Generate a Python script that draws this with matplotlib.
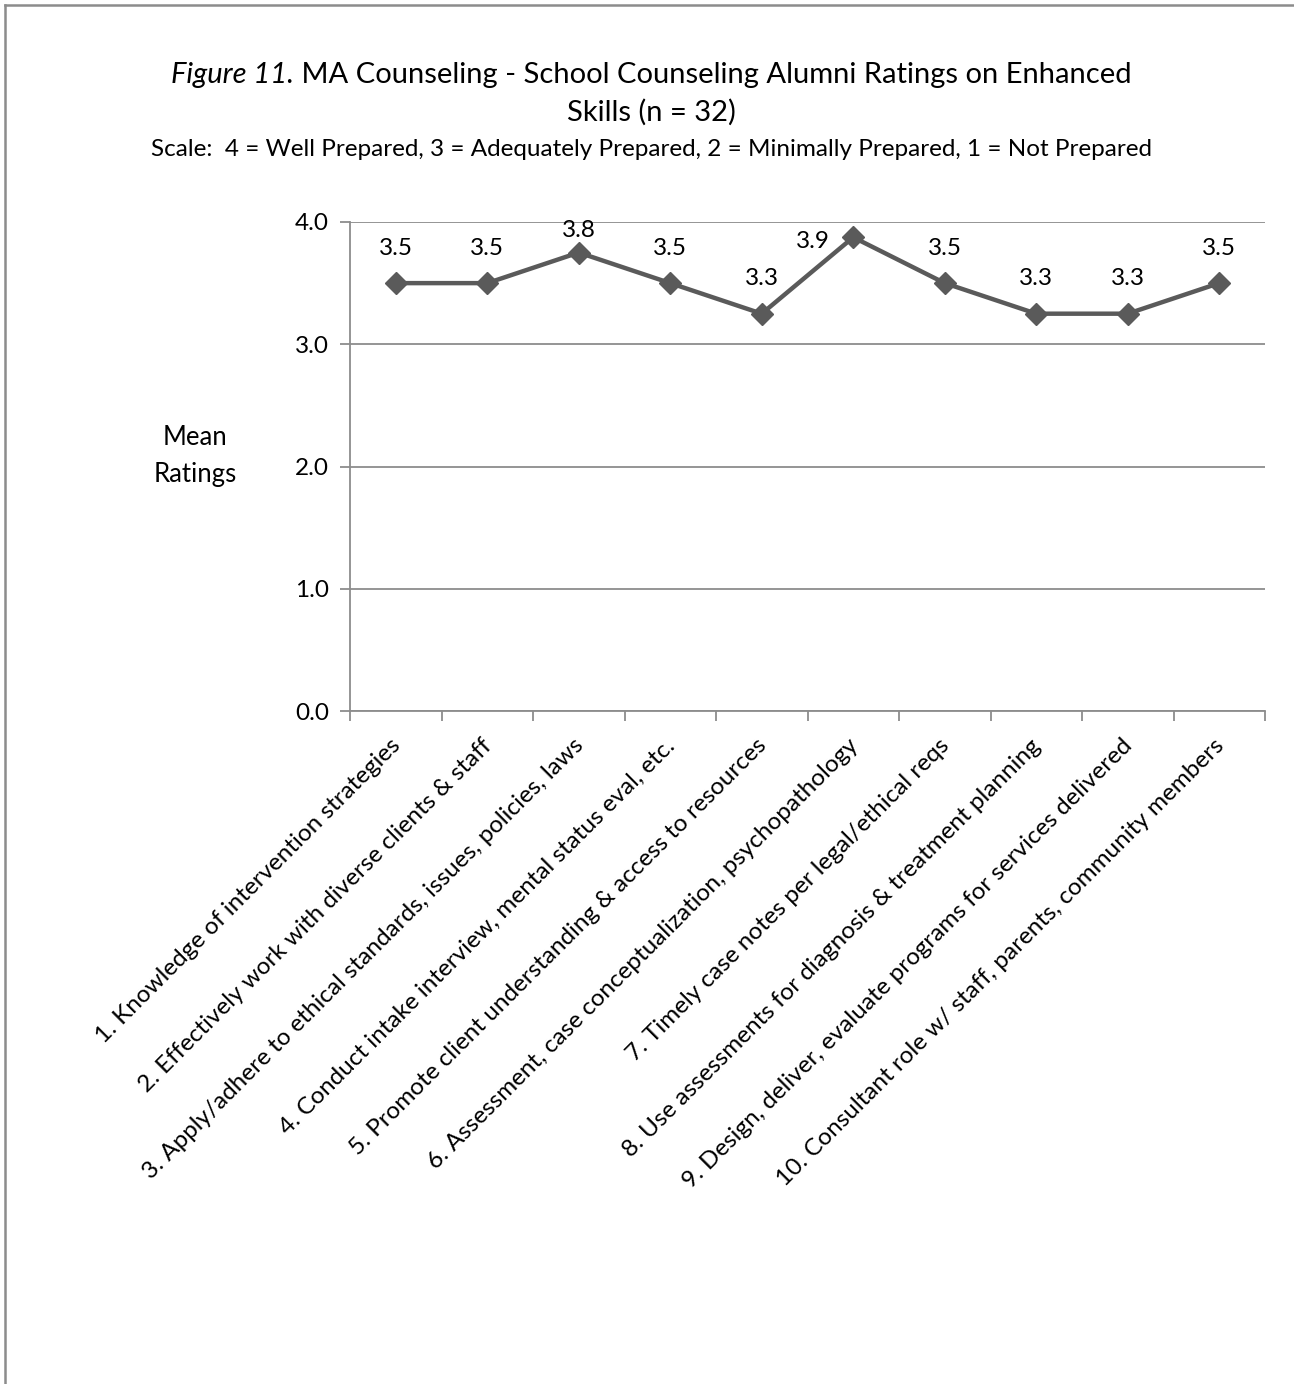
import math
import matplotlib
matplotlib.use('Agg')
import matplotlib.pyplot as plt
import matplotlib.transforms as mtransforms
from matplotlib.lines import Line2D

plt.rcParams['font.family'] = ['Lato', 'DejaVu Sans']

skills = [
    '1. Knowledge of intervention strategies',
    '2. Effectively work with diverse clients & staff',
    '3. Apply/adhere to ethical standards, issues, policies, laws',
    '4. Conduct intake interview, mental status eval, etc.',
    '5. Promote client understanding & access to resources',
    '6. Assessment, case conceptualization, psychopathology',
    '7. Timely case notes per legal/ethical reqs',
    '8. Use assessments for diagnosis & treatment planning',
    '9. Design, deliver, evaluate programs for services delivered',
    '10. Consultant role w/ staff, parents, community members',
]
mean_ratings = [3.5, 3.5, 3.75, 3.5, 3.25, 3.875, 3.5, 3.25, 3.25, 3.5]
y_ticks = [0.0, 1.0, 2.0, 3.0, 4.0]

title_italic = 'Figure 11.'
title_rest = ' MA Counseling - School Counseling Alumni Ratings on Enhanced'
title_line2 = 'Skills (n = 32)'
subtitle = 'Scale:  4 = Well Prepared, 3 = Adequately Prepared, 2 = Minimally Prepared, 1 = Not Prepared'

LINE = '#5a5a5a'
GRID = '#8c8c8c'
FS = 17.5
W, H = 1294, 1384

fig = plt.figure(figsize=(W / 100, H / 100), dpi=100)
ax = fig.add_axes([350 / W, 1 - 711 / H, 915 / W, 489 / H])

x = list(range(len(mean_ratings)))
ax.plot(x, mean_ratings, color=LINE, lw=3.2, marker='D', markersize=11,
        markerfacecolor=LINE, markeredgecolor=LINE, zorder=3, clip_on=False)


def one_decimal(v):
    # round half up like a spreadsheet does
    return '%.1f' % (math.floor(v * 10 + 0.5) / 10)


for xi, v in zip(x, mean_ratings):
    if v > 3.85:
        off = (-29, -3)
    elif v > 3.7:
        off = (0, 16)
    else:
        off = (0, 25)
    ax.annotate(one_decimal(v), (xi, v), xytext=off, textcoords='offset points',
                ha='center', va='center', fontsize=FS, color='black')

ax.set_xlim(-0.5, len(mean_ratings) - 0.5)
ax.set_ylim(0, 4)
ax.set_yticks(y_ticks)
ax.set_yticklabels(['%.1f' % t for t in y_ticks], fontsize=FS)
ax.yaxis.grid(True, color=GRID, lw=1.3)
ax.set_axisbelow(True)

ax.set_xticks(x)
ax.set_xticklabels(skills, rotation=45, ha='right', rotation_mode='anchor', fontsize=FS)
ax.set_xticks([i - 0.5 for i in range(len(mean_ratings) + 1)], minor=True)
ax.tick_params(axis='x', which='major', length=0, pad=0)
ax.tick_params(axis='x', which='minor', length=7, width=1.3, color=GRID, direction='out')
ax.tick_params(axis='y', length=7, width=1.3, color=GRID, pad=8)
shift = mtransforms.ScaledTranslation(-6 / 100, -24 / 100, fig.dpi_scale_trans)
for lab in ax.get_xticklabels():
    lab.set_transform(lab.get_transform() + shift)

for side in ['top', 'right']:
    ax.spines[side].set_visible(False)
for side in ['left', 'bottom']:
    ax.spines[side].set_color(GRID)
    ax.spines[side].set_linewidth(1.3)

fig.text(195 / W, 1 - 456 / H, 'Mean\nRatings', ha='center', va='center',
         fontsize=18.5, linespacing=1.6)

# title: italic figure number followed by the regular text, centred together
renderer = fig.canvas.get_renderer()
t1 = fig.text(0, 1 - 75 / H, title_italic, fontsize=21, style='italic', va='center')
t2 = fig.text(0, 1 - 75 / H, title_rest, fontsize=21, va='center')
w1 = t1.get_window_extent(renderer).width
w2 = t2.get_window_extent(renderer).width
x0 = 651 - (w1 + w2) / 2
t1.set_x(x0 / W)
t2.set_x((x0 + w1) / W)
fig.text(651 / W, 1 - 112 / H, title_line2, fontsize=21, ha='center', va='center')
fig.text(651 / W, 1 - 149 / H, subtitle, fontsize=FS, ha='center', va='center')

# border along top and left edges
fig.add_artist(Line2D([5 / W, 5 / W], [0, 1 - 5 / H], color=GRID, lw=1.8))
fig.add_artist(Line2D([5 / W, 1], [1 - 5 / H, 1 - 5 / H], color=GRID, lw=1.8))

fig.savefig('out.png', dpi=100)
